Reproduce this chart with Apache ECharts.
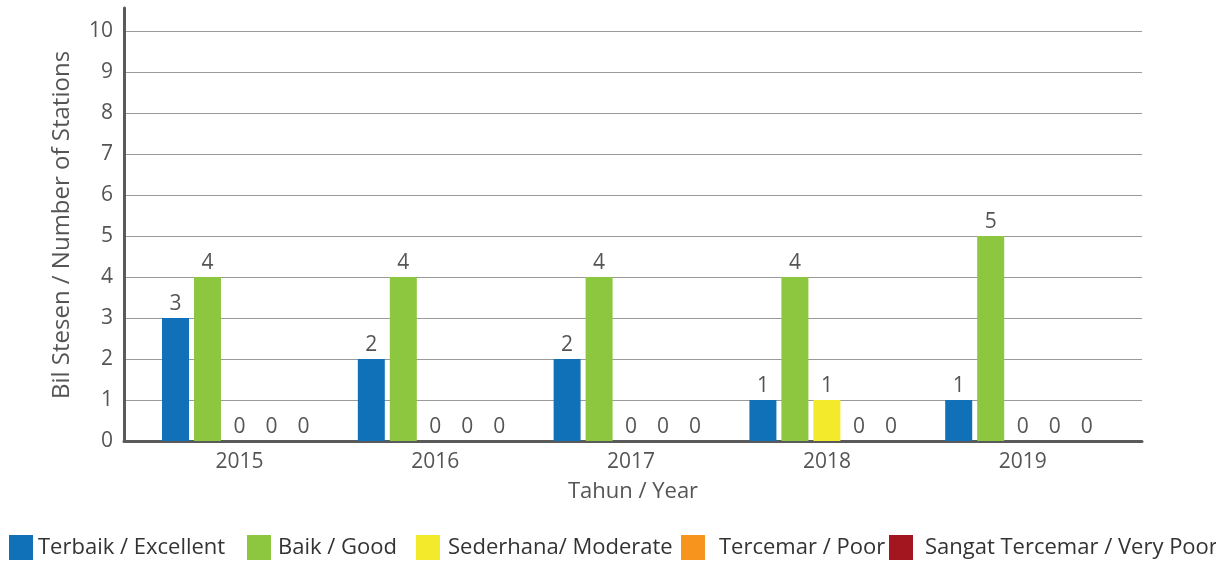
<!DOCTYPE html>
<html>
<head>
<meta charset="utf-8">
<script src="https://cdn.jsdelivr.net/npm/echarts@6/dist/echarts.min.js"></script>
<style>
  html, body { margin: 0; padding: 0; background: #fff; }
  #chart { width: 1216px; height: 562px; }
</style>
</head>
<body>
<div id="chart"></div>
<script>
// Station counts per water-quality class, by year
const years = ['2015', '2016', '2017', '2018', '2019'];
const excellent = [3, 2, 2, 1, 1];
const good = [4, 4, 4, 4, 5];
const moderate = [0, 0, 0, 1, 0];
const poor = [0, 0, 0, 0, 0];
const veryPoor = [0, 0, 0, 0, 0];
const classNames = ['Terbaik / Excellent', 'Baik / Good', 'Sederhana/ Moderate', 'Tercemar / Poor', 'Sangat Tercemar / Very Poor'];
const classColors = ['#1071b8', '#8dc63f', '#f3ea2c', '#f7941d', '#a3161f'];
const yTicks = { min: 0, max: 10, interval: 1 };

const FONT = '"Open Sans"';
const TXT = '#555555';
const AXIS = '#5a5a5a';

const seriesData = [excellent, good, moderate, poor, veryPoor];

const chart = echarts.init(document.getElementById('chart'), null, { renderer: 'canvas' });

const series = seriesData.map((vals, i) => ({
  name: classNames[i],
  type: 'bar',
  xAxisIndex: 2,
  yAxisIndex: 2,
  data: vals,
  barWidth: 27,
  barGap: '18.5%',
  itemStyle: { color: classColors[i] },
  label: {
    show: true,
    position: 'top',
    distance: 3,
    color: TXT,
    fontFamily: FONT,
    fontSize: 21
  },
  emphasis: { disabled: true }
}));

// one legend per class so each entry sits at its own spot on the bottom row
const legendLeft = [9, 247, 416, 681, 889];
const legendTextPad = [0, 2, 3, 9, 7];
const legends = classNames.map((n, i) => ({
  data: [n],
  left: legendLeft[i],
  top: 535,
  itemWidth: 24,
  itemHeight: 25,
  itemGap: 0,
  icon: 'rect',
  padding: 0,
  selectedMode: false,
  textStyle: { color: '#333', fontFamily: FONT, fontSize: 22, padding: [0, 0, 0, legendTextPad[i]] }
}));

chart.setOption({
  animation: false,
  legend: legends,
  grid: [
    // frame: axis lines (y axis runs a bit above the top tick)
    { left: 124, width: 1018, top: 8, height: 433 },
    // value scale with gridlines and labels
    { left: 124, width: 1018, top: 31, height: 410 },
    // bars
    { left: 141.6, width: 979, top: 31, height: 410 }
  ],
  xAxis: [
    {
      gridIndex: 0, type: 'value', min: 0, max: 1,
      axisLine: { show: true, lineStyle: { color: AXIS, width: 3 } },
      axisTick: { show: false }, axisLabel: { show: false }, splitLine: { show: false },
      name: 'Tahun / Year', nameLocation: 'middle', nameGap: 40,
      nameTextStyle: { color: TXT, fontFamily: FONT, fontSize: 22 }
    },
    {
      gridIndex: 1, type: 'value', min: 0, max: 1, show: false
    },
    {
      gridIndex: 2, type: 'category', data: years,
      axisLine: { show: false }, axisTick: { show: false },
      axisLabel: { color: TXT, fontFamily: FONT, fontSize: 21, margin: 11 }
    }
  ],
  yAxis: [
    {
      gridIndex: 0, type: 'value', min: 0, max: 1,
      axisLine: { show: true, lineStyle: { color: AXIS, width: 3 } },
      axisTick: { show: false }, axisLabel: { show: false }, splitLine: { show: false }
    },
    {
      gridIndex: 1, type: 'value', min: yTicks.min, max: yTicks.max, interval: yTicks.interval,
      axisLine: { show: false }, axisTick: { show: false },
      axisLabel: { color: TXT, fontFamily: FONT, fontSize: 21, margin: 11 },
      splitLine: { show: true, lineStyle: { color: '#9a9a9a', width: 1.2 } },
      name: 'Bil Stesen / Number of Stations', nameLocation: 'middle', nameGap: 50,
      nameTextStyle: { color: TXT, fontFamily: FONT, fontSize: 24, padding: [0, 0, 0, 22] }
    },
    {
      gridIndex: 2, type: 'value', min: yTicks.min, max: yTicks.max, interval: yTicks.interval,
      show: false
    }
  ],
  series: series
});
</script>
</body>
</html>
